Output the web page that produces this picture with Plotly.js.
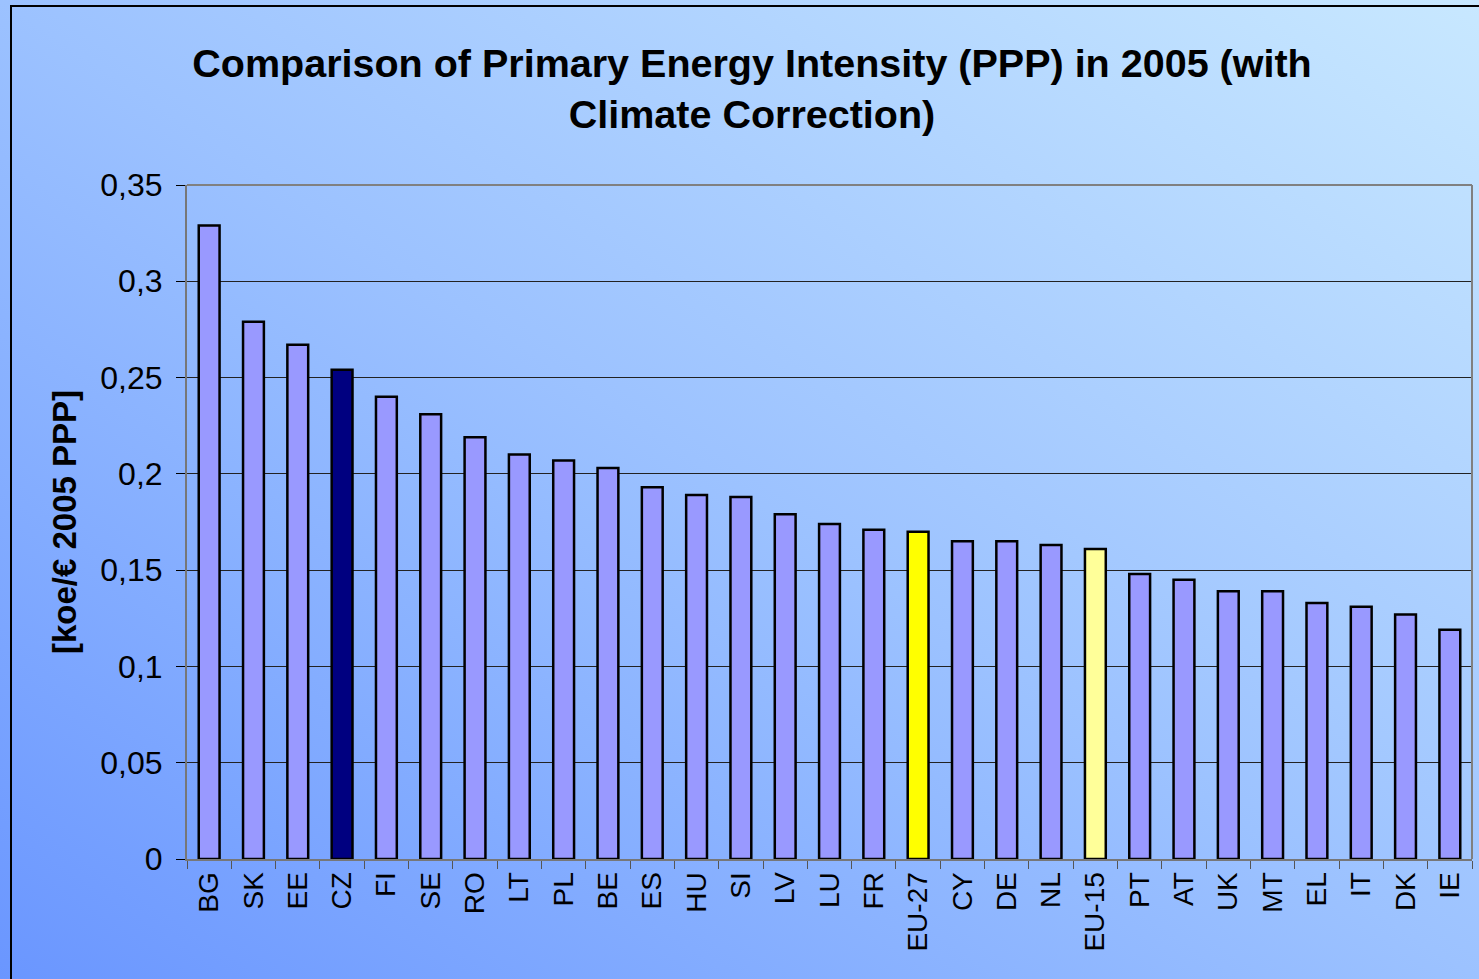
<!DOCTYPE html>
<html>
<head>
<meta charset="utf-8">
<script src="https://cdn.plot.ly/plotly-3.0.1.min.js"></script>
<style>
  html, body { margin: 0; padding: 0; }
  body {
    width: 1479px; height: 979px; overflow: hidden;
    background: linear-gradient(to top right, #6a96ff 0%, #9cc2ff 50%, #c8e8ff 100%);
    position: relative;
  }
  #frame {
    position: absolute; left: 10px; top: 5px; width: 1500px; height: 1000px;
    border-left: 2px solid #000; border-top: 2px solid #000; box-sizing: border-box;
    pointer-events: none;
  }
  #chart { position: absolute; left: 0; top: 0; width: 1479px; height: 979px; }
</style>
</head>
<body>
<div id="chart"></div>
<div id="frame"></div>
<script>
const categories = ["BG","SK","EE","CZ","FI","SE","RO","LT","PL","BE","ES","HU","SI","LV","LU","FR","EU-27","CY","DE","NL","EU-15","PT","AT","UK","MT","EL","IT","DK","IE"];
const values = [0.329,0.279,0.267,0.254,0.240,0.231,0.219,0.210,0.207,0.203,0.193,0.189,0.188,0.179,0.174,0.171,0.170,0.165,0.165,0.163,0.161,0.148,0.145,0.139,0.139,0.133,0.131,0.127,0.119];
const tickValsY = [0,0.05,0.1,0.15,0.2,0.25,0.3,0.35];
const tickTextY = ["0","0,05","0,1","0,15","0,2","0,25","0,3","0,35"];

const colors = categories.map(c => c === "CZ" ? "#000080" : (c === "EU-27" ? "#ffff00" : (c === "EU-15" ? "#ffff99" : "#9999ff")));

const trace = {
  type: "bar",
  x: categories,
  y: values,
  marker: { color: colors, line: { color: "#000000", width: 2.5 } },
  hoverinfo: "x+y"
};

const layout = {
  width: 1479, height: 979,
  paper_bgcolor: "rgba(0,0,0,0)",
  plot_bgcolor: "rgba(0,0,0,0)",
  margin: { l: 187, r: 7, t: 185, b: 120 },
  bargap: 0.53,
  showlegend: false,
  separators: ", ",
  font: { family: "Liberation Sans, Arial, sans-serif", color: "#000" },
  title: {
    text: "<b>Comparison of Primary Energy Intensity (PPP) in 2005 (with<br>Climate Correction)</b>",
    font: { size: 39.5, family: "Liberation Sans, Arial, sans-serif", color: "#000" },
    x: 752 / 1479, xanchor: "center",
    y: 1 - 77 / 979, yanchor: "top"
  },
  xaxis: {
    type: "category",
    tickangle: -90,
    tickfont: { size: 28 },
    ticks: "outside", tickson: "boundaries", ticklen: 8, tickcolor: "#555",
    showline: true, linecolor: "#777", linewidth: 2,
    mirror: false,
    showgrid: false,
    fixedrange: true
  },
  yaxis: {
    range: [0, 0.35],
    tickvals: tickValsY, ticktext: tickTextY,
    tickfont: { size: 32 },
    ticks: "outside", ticklen: 9, tickcolor: "#000",
    ticklabelstandoff: 7,
    showline: true, linecolor: "#777", linewidth: 2,
    showgrid: true, gridcolor: "#222", gridwidth: 1,
    zeroline: false,
    title: { text: "<b>[koe/€ 2005 PPP]</b>", font: { size: 33 }, standoff: 14 },
    fixedrange: true
  },
  shapes: [
    { type: "line", xref: "paper", yref: "paper", x0: 0, x1: 1, y0: 1, y1: 1, line: { color: "#808080", width: 2 } },
    { type: "line", xref: "paper", yref: "paper", x0: 1, x1: 1, y0: 0, y1: 1, line: { color: "#808080", width: 2 } }
  ]
};

Plotly.newPlot("chart", [trace], layout, { displayModeBar: false });
</script>
</body>
</html>
